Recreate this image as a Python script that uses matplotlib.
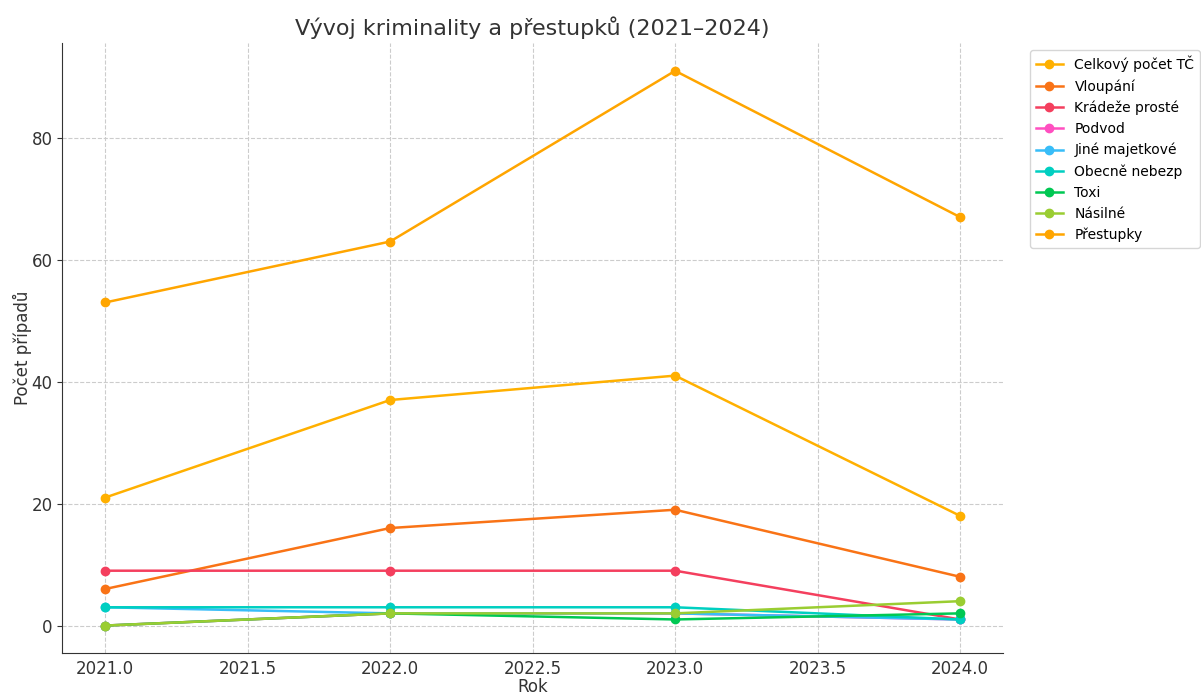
import matplotlib
matplotlib.use('Agg')
import matplotlib.pyplot as plt

roky = [2021, 2022, 2023, 2024]

celkovy = [21, 37, 41, 18]
vloupani = [6, 16, 19, 8]
kradeze = [9, 9, 9, 1]
podvod = [0, 2, 2, 1]
jine_maj = [3, 2, 2, 1]
obecne = [3, 3, 3, 1]
toxi = [0, 2, 1, 2]
nasilne = [0, 2, 2, 4]
prestupky = [53, 63, 91, 67]

serie = [
    ('Celkový počet TČ', celkovy, '#FFB000'),
    ('Vloupání', vloupani, '#F97316'),
    ('Krádeže prosté', kradeze, '#F43F5E'),
    ('Podvod', podvod, '#FF4FC0'),
    ('Jiné majetkové', jine_maj, '#38BDF8'),
    ('Obecně nebezp', obecne, '#00CFC1'),
    ('Toxi', toxi, '#00C853'),
    ('Násilné', nasilne, '#9ACD32'),
    ('Přestupky', prestupky, '#FFA500'),
]

fig = plt.figure(figsize=(12.01, 6.95), dpi=100)
ax = fig.add_axes([0.052, 0.06, 0.783, 0.878])

for nazev, hodnoty, barva in serie:
    ax.plot(roky, hodnoty, marker='o', color=barva, label=nazev, linewidth=1.8, markersize=6)

ax.spines['right'].set_color('none')
ax.spines['top'].set_color('none')
ax.spines['left'].set_color('#333333')
ax.spines['bottom'].set_color('#333333')
ax.grid(True, linestyle='--', color='#cccccc', linewidth=0.8)
ax.tick_params(labelsize=12, colors='#333333')
ax.tick_params(axis='x', length=0, pad=5)

ax.set_title('Vývoj kriminality a přestupků (2021–2024)', fontsize=16, color='#333333')
ax.set_xlabel('Rok', fontsize=12, labelpad=0, color='#333333')
ax.set_ylabel('Počet případů', fontsize=12, color='#333333', labelpad=0)

ax.legend(loc='upper left', bbox_to_anchor=(1.0215, 1.0), fontsize=10, frameon=True)

fig.savefig('out.png', dpi=100)
